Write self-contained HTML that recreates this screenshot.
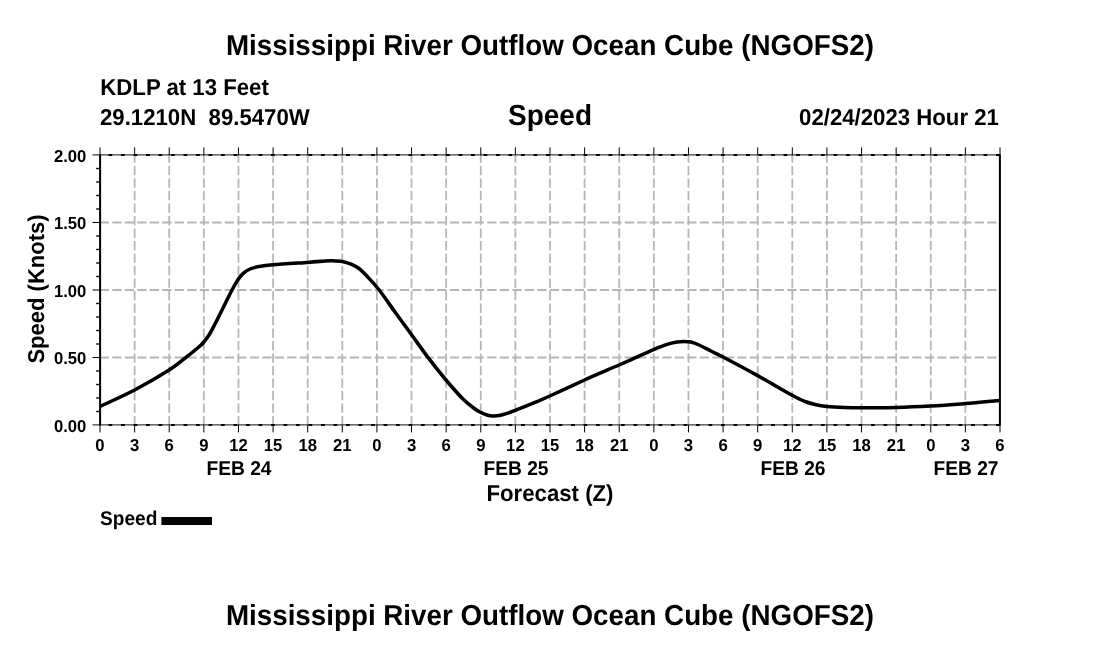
<!DOCTYPE html>
<html lang="en"><head><meta charset="utf-8"><title>Mississippi River Outflow Ocean Cube (NGOFS2)</title>
<style>html,body{margin:0;padding:0;background:#fff}body{width:1100px;height:650px;overflow:hidden}</style></head>
<body>
<svg width="1100" height="650" viewBox="0 0 1100 650" style="display:block">
<rect width="1100" height="650" fill="#fff"/>
<g stroke="#b6b6b6" stroke-width="1.8" stroke-dasharray="9.3 3.2" stroke-dashoffset="0.25" fill="none">
<line x1="134.62" y1="425.0" x2="134.62" y2="155.0"/>
<line x1="169.23" y1="425.0" x2="169.23" y2="155.0"/>
<line x1="203.85" y1="425.0" x2="203.85" y2="155.0"/>
<line x1="238.46" y1="425.0" x2="238.46" y2="155.0"/>
<line x1="273.08" y1="425.0" x2="273.08" y2="155.0"/>
<line x1="307.69" y1="425.0" x2="307.69" y2="155.0"/>
<line x1="342.31" y1="425.0" x2="342.31" y2="155.0"/>
<line x1="376.92" y1="425.0" x2="376.92" y2="155.0"/>
<line x1="411.54" y1="425.0" x2="411.54" y2="155.0"/>
<line x1="446.15" y1="425.0" x2="446.15" y2="155.0"/>
<line x1="480.77" y1="425.0" x2="480.77" y2="155.0"/>
<line x1="515.38" y1="425.0" x2="515.38" y2="155.0"/>
<line x1="550.00" y1="425.0" x2="550.00" y2="155.0"/>
<line x1="584.62" y1="425.0" x2="584.62" y2="155.0"/>
<line x1="619.23" y1="425.0" x2="619.23" y2="155.0"/>
<line x1="653.85" y1="425.0" x2="653.85" y2="155.0"/>
<line x1="688.46" y1="425.0" x2="688.46" y2="155.0"/>
<line x1="723.08" y1="425.0" x2="723.08" y2="155.0"/>
<line x1="757.69" y1="425.0" x2="757.69" y2="155.0"/>
<line x1="792.31" y1="425.0" x2="792.31" y2="155.0"/>
<line x1="826.92" y1="425.0" x2="826.92" y2="155.0"/>
<line x1="861.54" y1="425.0" x2="861.54" y2="155.0"/>
<line x1="896.15" y1="425.0" x2="896.15" y2="155.0"/>
<line x1="930.77" y1="425.0" x2="930.77" y2="155.0"/>
<line x1="965.38" y1="425.0" x2="965.38" y2="155.0"/>
<line x1="100.0" y1="357.50" x2="1000.0" y2="357.50"/>
<line x1="100.0" y1="290.00" x2="1000.0" y2="290.00"/>
<line x1="100.0" y1="222.50" x2="1000.0" y2="222.50"/>
</g>
<g stroke="#000" fill="none">
<line x1="92.5" y1="154.90" x2="1000.0" y2="154.90" stroke-width="0.95" stroke="#000"/>
<line x1="100.0" y1="155.0" x2="1000.0" y2="155.0" stroke-width="2" stroke-dasharray="3.7 8.8" stroke-dashoffset="-8.55"/>
<line x1="92.5" y1="424.90" x2="1000.0" y2="424.90" stroke-width="0.95" stroke="#000"/>
<line x1="100.0" y1="425.0" x2="1000.0" y2="425.0" stroke-width="2" stroke-dasharray="3.7 8.8" stroke-dashoffset="-8.55"/>
<line x1="100.1" y1="154.5" x2="100.1" y2="425.5" stroke-width="2"/>
<line x1="999.9" y1="154.5" x2="999.9" y2="425.5" stroke-width="2"/>
<line x1="100.00" y1="147.4" x2="100.00" y2="155.0" stroke-width="1"/>
<line x1="100.00" y1="425.0" x2="100.00" y2="432.4" stroke-width="1"/>
<line x1="134.62" y1="147.4" x2="134.62" y2="155.0" stroke-width="1"/>
<line x1="134.62" y1="425.0" x2="134.62" y2="432.4" stroke-width="1"/>
<line x1="169.23" y1="147.4" x2="169.23" y2="155.0" stroke-width="1"/>
<line x1="169.23" y1="425.0" x2="169.23" y2="432.4" stroke-width="1"/>
<line x1="203.85" y1="147.4" x2="203.85" y2="155.0" stroke-width="1"/>
<line x1="203.85" y1="425.0" x2="203.85" y2="432.4" stroke-width="1"/>
<line x1="238.46" y1="147.4" x2="238.46" y2="155.0" stroke-width="1"/>
<line x1="238.46" y1="425.0" x2="238.46" y2="432.4" stroke-width="1"/>
<line x1="273.08" y1="147.4" x2="273.08" y2="155.0" stroke-width="1"/>
<line x1="273.08" y1="425.0" x2="273.08" y2="432.4" stroke-width="1"/>
<line x1="307.69" y1="147.4" x2="307.69" y2="155.0" stroke-width="1"/>
<line x1="307.69" y1="425.0" x2="307.69" y2="432.4" stroke-width="1"/>
<line x1="342.31" y1="147.4" x2="342.31" y2="155.0" stroke-width="1"/>
<line x1="342.31" y1="425.0" x2="342.31" y2="432.4" stroke-width="1"/>
<line x1="376.92" y1="147.4" x2="376.92" y2="155.0" stroke-width="1"/>
<line x1="376.92" y1="425.0" x2="376.92" y2="432.4" stroke-width="1"/>
<line x1="411.54" y1="147.4" x2="411.54" y2="155.0" stroke-width="1"/>
<line x1="411.54" y1="425.0" x2="411.54" y2="432.4" stroke-width="1"/>
<line x1="446.15" y1="147.4" x2="446.15" y2="155.0" stroke-width="1"/>
<line x1="446.15" y1="425.0" x2="446.15" y2="432.4" stroke-width="1"/>
<line x1="480.77" y1="147.4" x2="480.77" y2="155.0" stroke-width="1"/>
<line x1="480.77" y1="425.0" x2="480.77" y2="432.4" stroke-width="1"/>
<line x1="515.38" y1="147.4" x2="515.38" y2="155.0" stroke-width="1"/>
<line x1="515.38" y1="425.0" x2="515.38" y2="432.4" stroke-width="1"/>
<line x1="550.00" y1="147.4" x2="550.00" y2="155.0" stroke-width="1"/>
<line x1="550.00" y1="425.0" x2="550.00" y2="432.4" stroke-width="1"/>
<line x1="584.62" y1="147.4" x2="584.62" y2="155.0" stroke-width="1"/>
<line x1="584.62" y1="425.0" x2="584.62" y2="432.4" stroke-width="1"/>
<line x1="619.23" y1="147.4" x2="619.23" y2="155.0" stroke-width="1"/>
<line x1="619.23" y1="425.0" x2="619.23" y2="432.4" stroke-width="1"/>
<line x1="653.85" y1="147.4" x2="653.85" y2="155.0" stroke-width="1"/>
<line x1="653.85" y1="425.0" x2="653.85" y2="432.4" stroke-width="1"/>
<line x1="688.46" y1="147.4" x2="688.46" y2="155.0" stroke-width="1"/>
<line x1="688.46" y1="425.0" x2="688.46" y2="432.4" stroke-width="1"/>
<line x1="723.08" y1="147.4" x2="723.08" y2="155.0" stroke-width="1"/>
<line x1="723.08" y1="425.0" x2="723.08" y2="432.4" stroke-width="1"/>
<line x1="757.69" y1="147.4" x2="757.69" y2="155.0" stroke-width="1"/>
<line x1="757.69" y1="425.0" x2="757.69" y2="432.4" stroke-width="1"/>
<line x1="792.31" y1="147.4" x2="792.31" y2="155.0" stroke-width="1"/>
<line x1="792.31" y1="425.0" x2="792.31" y2="432.4" stroke-width="1"/>
<line x1="826.92" y1="147.4" x2="826.92" y2="155.0" stroke-width="1"/>
<line x1="826.92" y1="425.0" x2="826.92" y2="432.4" stroke-width="1"/>
<line x1="861.54" y1="147.4" x2="861.54" y2="155.0" stroke-width="1"/>
<line x1="861.54" y1="425.0" x2="861.54" y2="432.4" stroke-width="1"/>
<line x1="896.15" y1="147.4" x2="896.15" y2="155.0" stroke-width="1"/>
<line x1="896.15" y1="425.0" x2="896.15" y2="432.4" stroke-width="1"/>
<line x1="930.77" y1="147.4" x2="930.77" y2="155.0" stroke-width="1"/>
<line x1="930.77" y1="425.0" x2="930.77" y2="432.4" stroke-width="1"/>
<line x1="965.38" y1="147.4" x2="965.38" y2="155.0" stroke-width="1"/>
<line x1="965.38" y1="425.0" x2="965.38" y2="432.4" stroke-width="1"/>
<line x1="1000.00" y1="147.4" x2="1000.00" y2="155.0" stroke-width="1"/>
<line x1="1000.00" y1="425.0" x2="1000.00" y2="432.4" stroke-width="1"/>
<line x1="96.2" y1="411.50" x2="100.0" y2="411.50" stroke-width="1.4"/>
<line x1="96.2" y1="398.00" x2="100.0" y2="398.00" stroke-width="1.4"/>
<line x1="96.2" y1="384.50" x2="100.0" y2="384.50" stroke-width="1.4"/>
<line x1="96.2" y1="371.00" x2="100.0" y2="371.00" stroke-width="1.4"/>
<line x1="92.5" y1="357.50" x2="100.0" y2="357.50" stroke-width="1"/>
<line x1="96.2" y1="344.00" x2="100.0" y2="344.00" stroke-width="1.4"/>
<line x1="96.2" y1="330.50" x2="100.0" y2="330.50" stroke-width="1.4"/>
<line x1="96.2" y1="317.00" x2="100.0" y2="317.00" stroke-width="1.4"/>
<line x1="96.2" y1="303.50" x2="100.0" y2="303.50" stroke-width="1.4"/>
<line x1="92.5" y1="290.00" x2="100.0" y2="290.00" stroke-width="1"/>
<line x1="96.2" y1="276.50" x2="100.0" y2="276.50" stroke-width="1.4"/>
<line x1="96.2" y1="263.00" x2="100.0" y2="263.00" stroke-width="1.4"/>
<line x1="96.2" y1="249.50" x2="100.0" y2="249.50" stroke-width="1.4"/>
<line x1="96.2" y1="236.00" x2="100.0" y2="236.00" stroke-width="1.4"/>
<line x1="92.5" y1="222.50" x2="100.0" y2="222.50" stroke-width="1"/>
<line x1="96.2" y1="209.00" x2="100.0" y2="209.00" stroke-width="1.4"/>
<line x1="96.2" y1="195.50" x2="100.0" y2="195.50" stroke-width="1.4"/>
<line x1="96.2" y1="182.00" x2="100.0" y2="182.00" stroke-width="1.4"/>
<line x1="96.2" y1="168.50" x2="100.0" y2="168.50" stroke-width="1.4"/>
</g>
<path d="M100.0 406.4C105.8 403.7 123.1 396.1 134.6 390.0C146.1 383.9 160.6 375.4 169.2 370.0C177.8 364.6 180.9 361.4 186.0 357.4C191.1 353.4 197.0 348.6 200.0 346.0C203.0 343.4 202.3 343.8 203.8 342.0C205.3 340.2 207.1 338.0 209.0 335.0C210.9 332.0 212.3 329.2 215.0 324.0C217.7 318.8 222.2 309.7 225.0 304.0C227.8 298.3 229.8 294.2 232.0 290.0C234.2 285.8 236.6 281.7 238.4 279.0C240.2 276.3 241.1 275.3 243.0 273.6C244.9 271.9 247.3 270.2 250.0 269.0C252.7 267.8 255.2 267.3 259.0 266.6C262.8 265.9 264.9 265.5 273.0 264.8C281.1 264.1 298.9 263.0 307.6 262.4C316.3 261.8 320.9 261.2 325.0 260.9C329.1 260.6 329.1 260.6 332.0 260.7C334.9 260.8 339.0 260.9 342.2 261.5C345.4 262.1 348.2 263.0 351.0 264.2C353.8 265.4 356.3 266.5 359.0 268.5C361.7 270.5 363.6 272.6 367.0 276.2C370.4 279.8 374.5 284.0 379.2 290.0C383.9 296.0 389.6 304.6 395.0 312.0C400.4 319.4 405.9 326.9 411.4 334.5C416.9 342.1 422.2 349.8 428.0 357.4C433.8 365.0 440.2 373.1 446.0 380.0C451.8 386.9 458.2 394.2 463.0 399.0C467.8 403.8 472.1 406.8 475.0 409.0C477.9 411.2 478.6 411.4 480.6 412.4C482.6 413.4 484.9 414.4 487.0 415.0C489.1 415.6 491.0 415.9 493.0 416.0C495.0 416.1 496.7 416.0 499.0 415.6C501.3 415.2 504.3 414.3 507.0 413.4C509.7 412.5 510.5 412.2 515.2 410.4C519.9 408.6 529.2 404.8 535.0 402.4C540.8 400.0 541.6 399.7 549.8 396.0C558.0 392.3 572.9 385.2 584.4 380.0C595.9 374.8 610.4 368.8 619.0 365.0C627.6 361.2 630.2 360.0 636.0 357.4C641.8 354.8 648.4 351.8 653.6 349.6C658.8 347.4 663.1 345.7 667.0 344.4C670.9 343.1 674.2 342.5 677.0 342.0C679.8 341.5 681.7 341.4 684.0 341.4C686.3 341.4 688.5 341.4 691.0 342.0C693.5 342.6 695.7 343.5 699.0 345.0C702.3 346.5 707.0 349.0 711.0 351.0C715.0 353.0 715.2 352.9 723.0 357.0C730.8 361.1 746.1 369.2 757.6 375.6C769.1 382.0 784.3 391.0 792.2 395.3C800.1 399.6 801.2 400.0 805.0 401.5C808.8 403.0 811.4 403.6 815.0 404.5C818.6 405.4 821.8 406.1 826.8 406.6C831.8 407.1 839.2 407.4 845.0 407.6C850.8 407.8 852.9 407.8 861.4 407.8C869.9 407.8 884.5 407.7 896.0 407.4C907.5 407.1 919.1 406.6 930.6 406.0C942.1 405.4 953.6 404.5 965.2 403.6C976.8 402.7 994.2 400.9 1000.0 400.4" fill="none" stroke="#000" stroke-width="3.55" stroke-linejoin="round"/>
<g font-family="'Liberation Sans', Arial, Helvetica, sans-serif" font-weight="bold" fill="#000" text-rendering="geometricPrecision">
<text transform="translate(549.9,54.9) scale(1,1.04)" font-size="27.77" text-anchor="middle">Mississippi River Outflow Ocean Cube (NGOFS2)</text>
<text transform="translate(549.9,624.9) scale(1,1.04)" font-size="27.77" text-anchor="middle">Mississippi River Outflow Ocean Cube (NGOFS2)</text>
<text transform="translate(100.3,94.6) scale(1,1.04)" font-size="22.2">KDLP at 13 Feet</text>
<text transform="translate(100,124.7) scale(1,1.04)" font-size="22.2" xml:space="preserve">29.1210N  89.5470W</text>
<text transform="translate(550,125.4) scale(1,1.04)" font-size="28" text-anchor="middle">Speed</text>
<text transform="translate(998.9,124.9) scale(1,1.04)" font-size="22.2" text-anchor="end">02/24/2023 Hour 21</text>
<text transform="translate(86.4,431.7) scale(1,1.04)" font-size="16.7" text-anchor="end">0.00</text>
<text transform="translate(86.4,364.2) scale(1,1.04)" font-size="16.7" text-anchor="end">0.50</text>
<text transform="translate(86.4,296.7) scale(1,1.04)" font-size="16.7" text-anchor="end">1.00</text>
<text transform="translate(86.4,229.2) scale(1,1.04)" font-size="16.7" text-anchor="end">1.50</text>
<text transform="translate(86.4,161.7) scale(1,1.04)" font-size="16.7" text-anchor="end">2.00</text>
<text transform="translate(100,451) scale(1,1.04)" font-size="16.7" text-anchor="middle">0</text>
<text transform="translate(134.62,451) scale(1,1.04)" font-size="16.7" text-anchor="middle">3</text>
<text transform="translate(169.23,451) scale(1,1.04)" font-size="16.7" text-anchor="middle">6</text>
<text transform="translate(203.85,451) scale(1,1.04)" font-size="16.7" text-anchor="middle">9</text>
<text transform="translate(238.46,451) scale(1,1.04)" font-size="16.7" text-anchor="middle">12</text>
<text transform="translate(273.08,451) scale(1,1.04)" font-size="16.7" text-anchor="middle">15</text>
<text transform="translate(307.69,451) scale(1,1.04)" font-size="16.7" text-anchor="middle">18</text>
<text transform="translate(342.31,451) scale(1,1.04)" font-size="16.7" text-anchor="middle">21</text>
<text transform="translate(376.92,451) scale(1,1.04)" font-size="16.7" text-anchor="middle">0</text>
<text transform="translate(411.54,451) scale(1,1.04)" font-size="16.7" text-anchor="middle">3</text>
<text transform="translate(446.15,451) scale(1,1.04)" font-size="16.7" text-anchor="middle">6</text>
<text transform="translate(480.77,451) scale(1,1.04)" font-size="16.7" text-anchor="middle">9</text>
<text transform="translate(515.38,451) scale(1,1.04)" font-size="16.7" text-anchor="middle">12</text>
<text transform="translate(550,451) scale(1,1.04)" font-size="16.7" text-anchor="middle">15</text>
<text transform="translate(584.62,451) scale(1,1.04)" font-size="16.7" text-anchor="middle">18</text>
<text transform="translate(619.23,451) scale(1,1.04)" font-size="16.7" text-anchor="middle">21</text>
<text transform="translate(653.85,451) scale(1,1.04)" font-size="16.7" text-anchor="middle">0</text>
<text transform="translate(688.46,451) scale(1,1.04)" font-size="16.7" text-anchor="middle">3</text>
<text transform="translate(723.08,451) scale(1,1.04)" font-size="16.7" text-anchor="middle">6</text>
<text transform="translate(757.69,451) scale(1,1.04)" font-size="16.7" text-anchor="middle">9</text>
<text transform="translate(792.31,451) scale(1,1.04)" font-size="16.7" text-anchor="middle">12</text>
<text transform="translate(826.92,451) scale(1,1.04)" font-size="16.7" text-anchor="middle">15</text>
<text transform="translate(861.54,451) scale(1,1.04)" font-size="16.7" text-anchor="middle">18</text>
<text transform="translate(896.15,451) scale(1,1.04)" font-size="16.7" text-anchor="middle">21</text>
<text transform="translate(930.77,451) scale(1,1.04)" font-size="16.7" text-anchor="middle">0</text>
<text transform="translate(965.38,451) scale(1,1.04)" font-size="16.7" text-anchor="middle">3</text>
<text transform="translate(1000,451) scale(1,1.04)" font-size="16.7" text-anchor="middle">6</text>
<text transform="translate(239,474.7) scale(1,1.04)" font-size="19.2" text-anchor="middle">FEB 24</text>
<text transform="translate(516,474.7) scale(1,1.04)" font-size="19.2" text-anchor="middle">FEB 25</text>
<text transform="translate(793,474.7) scale(1,1.04)" font-size="19.2" text-anchor="middle">FEB 26</text>
<text transform="translate(966,474.7) scale(1,1.04)" font-size="19.2" text-anchor="middle">FEB 27</text>
<text transform="translate(550,500.6) scale(1,1.04)" font-size="22.2" text-anchor="middle">Forecast (Z)</text>
<text transform="translate(43.8,289) rotate(-90) scale(1,1.04)" font-size="22" text-anchor="middle">Speed (Knots)</text>
<text transform="translate(100,524.5) scale(1,1.04)" font-size="19.1">Speed</text>
</g>
<rect x="161.4" y="517" width="50.6" height="8" fill="#000"/>
</svg>
</body></html>
